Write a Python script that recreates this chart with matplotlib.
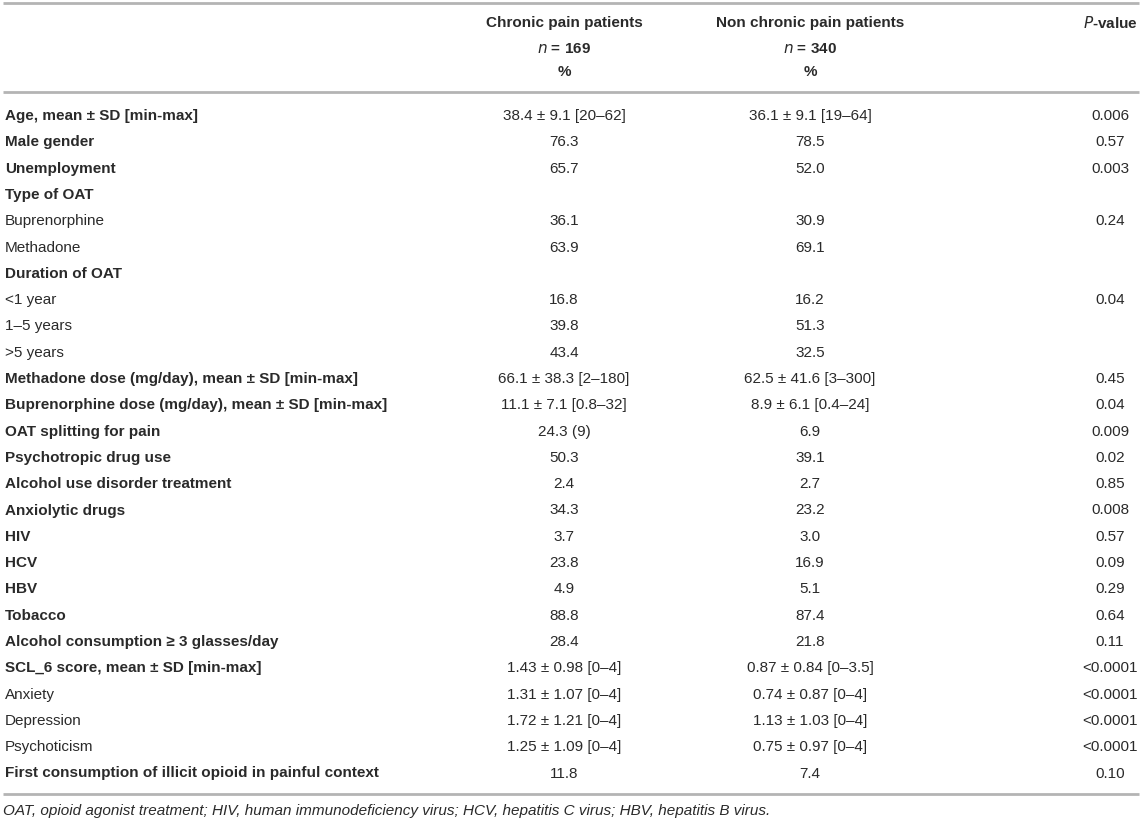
import matplotlib.pyplot as plt

plt.rcParams['font.family'] = ['Liberation Sans', 'DejaVu Sans']

# table content
labels = ['Age, mean \u00b1 SD [min-max]', 'Male gender', 'Unemployment', 'Type of OAT',
          'Buprenorphine', 'Methadone', 'Duration of OAT', '<1 year', '1\u20135 years', '>5 years',
          'Methadone dose (mg/day), mean \u00b1 SD [min-max]',
          'Buprenorphine dose (mg/day), mean \u00b1 SD [min-max]',
          'OAT splitting for pain', 'Psychotropic drug use', 'Alcohol use disorder treatment',
          'Anxiolytic drugs', 'HIV', 'HCV', 'HBV', 'Tobacco',
          'Alcohol consumption \u2265 3 glasses/day', 'SCL_6 score, mean \u00b1 SD [min-max]',
          'Anxiety', 'Depression', 'Psychoticism',
          'First consumption of illicit opioid in painful context']
bold = [1, 1, 1, 1, 0, 0, 1, 0, 0, 0, 1, 1, 1, 1, 1, 1, 1, 1, 1, 1, 1, 1, 0, 0, 0, 1]
chronic = ['38.4 \u00b1 9.1 [20\u201362]', '76.3', '65.7', '', '36.1', '63.9', '', '16.8', '39.8', '43.4',
           '66.1 \u00b1 38.3 [2\u2013180]', '11.1 \u00b1 7.1 [0.8\u201332]', '24.3 (9)', '50.3', '2.4',
           '34.3', '3.7', '23.8', '4.9', '88.8', '28.4', '1.43 \u00b1 0.98 [0\u20134]',
           '1.31 \u00b1 1.07 [0\u20134]', '1.72 \u00b1 1.21 [0\u20134]', '1.25 \u00b1 1.09 [0\u20134]', '11.8']
non_chronic = ['36.1 \u00b1 9.1 [19\u201364]', '78.5', '52.0', '', '30.9', '69.1', '', '16.2', '51.3', '32.5',
               '62.5 \u00b1 41.6 [3\u2013300]', '8.9 \u00b1 6.1 [0.4\u201324]', '6.9', '39.1', '2.7',
               '23.2', '3.0', '16.9', '5.1', '87.4', '21.8', '0.87 \u00b1 0.84 [0\u20133.5]',
               '0.74 \u00b1 0.87 [0\u20134]', '1.13 \u00b1 1.03 [0\u20134]', '0.75 \u00b1 0.97 [0\u20134]', '7.4']
p_values = ['0.006', '0.57', '0.003', '', '0.24', '', '', '0.04', '', '',
            '0.45', '0.04', '0.009', '0.02', '0.85', '0.008', '0.57', '0.09', '0.29', '0.64', '0.11',
            '<0.0001', '<0.0001', '<0.0001', '<0.0001', '0.10']
footnote = ('OAT, opioid agonist treatment; HIV, human immunodeficiency virus; '
            'HCV, hepatitis C virus; HBV, hepatitis B virus.')

W, H = 1143, 823
fig = plt.figure(figsize=(W / 100, H / 100), dpi=100)
ax = fig.add_axes([0, 0, 1, 1])
ax.set_xlim(0, W)
ax.set_ylim(H, 0)
ax.axis('off')

txt = '#2a2a2a'
line_c = '#b4b4b4'
fs = 11
x_lab, x_c1, x_c2, x_p = 5, 564, 810, 1110

# rules
for y in [3, 92, 794]:
    ax.plot([3, 1139], [y, y], color=line_c, lw=2, solid_capstyle='butt')

# header
ax.text(x_c1, 23, 'Chronic pain patients', ha='center', va='center', fontsize=fs, fontweight='bold', color=txt)
ax.text(x_c1, 49, r'$\mathbf{\mathit{n}}$ = 169', ha='center', va='center', fontsize=fs, fontweight='bold', color=txt)
ax.text(x_c1, 72, '%', ha='center', va='center', fontsize=fs, fontweight='bold', color=txt)
ax.text(x_c2, 23, 'Non chronic pain patients', ha='center', va='center', fontsize=fs, fontweight='bold', color=txt)
ax.text(x_c2, 49, r'$\mathbf{\mathit{n}}$ = 340', ha='center', va='center', fontsize=fs, fontweight='bold', color=txt)
ax.text(x_c2, 72, '%', ha='center', va='center', fontsize=fs, fontweight='bold', color=txt)
ax.text(x_p, 23, r'$\mathbf{\mathit{P}}$-value', ha='center', va='center', fontsize=fs, fontweight='bold', color=txt)

y0, dy = 116, 26.3
for i in range(len(labels)):
    y = y0 + i * dy
    ax.text(x_lab, y, labels[i], ha='left', va='center', fontsize=fs,
            fontweight='bold' if bold[i] else 'normal', color=txt)
    ax.text(x_c1, y, chronic[i], ha='center', va='center', fontsize=fs, color=txt)
    ax.text(x_c2, y, non_chronic[i], ha='center', va='center', fontsize=fs, color=txt)
    ax.text(x_p, y, p_values[i], ha='center', va='center', fontsize=fs, color=txt)

ax.text(3, 811, footnote, ha='left', va='center', fontsize=fs, style='italic', color=txt)

fig.savefig('out.png', dpi=100)
